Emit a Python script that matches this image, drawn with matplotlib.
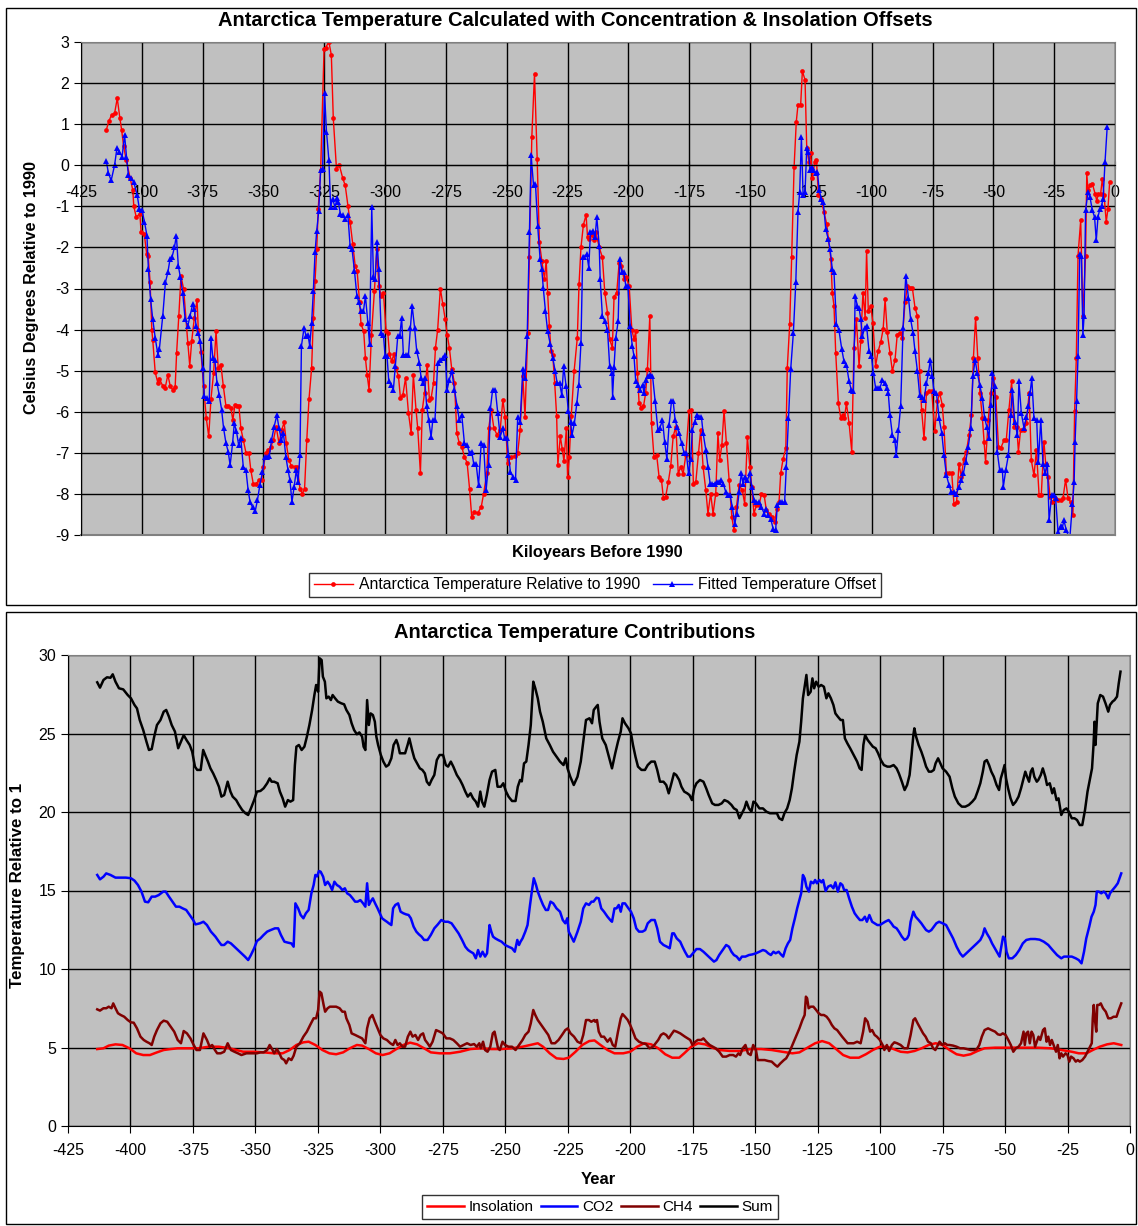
import matplotlib.pyplot as plt
from matplotlib.patches import Rectangle
from matplotlib.lines import Line2D

plt.rcParams['font.family'] = ['Liberation Sans', 'DejaVu Sans']
plt.rcParams['axes.unicode_minus'] = False

# ---------------- top chart: (kiloyears before 1990, deg C) ----------------
antarctica_pts = [
    (-414.6, 0.86), (-413.5, 1.08), (-412.4, 1.23), (-411.2, 1.26), (-410.1, 1.63), (-409.0, 1.14), (-408.3, 0.86),
    (-407.5, 0.47), (-406.4, 0.12), (-404.8, -0.31), (-403.7, -0.61), (-403.3, -1.0), (-402.3, -1.26), (-400.8, -1.18),
    (-400.3, -1.63), (-399.0, -1.67), (-398.0, -2.16), (-397.4, -2.2), (-396.6, -2.84), (-395.9, -4.0), (-395.5, -4.26),
    (-394.5, -5.04), (-393.4, -5.3), (-392.8, -5.2), (-391.4, -5.37), (-390.4, -5.42), (-389.3, -5.1), (-388.3, -5.38),
    (-387.3, -5.46), (-386.3, -5.4), (-385.7, -4.57), (-384.8, -3.67), (-383.9, -2.7), (-382.8, -3.02), (-381.1, -4.32),
    (-380.3, -4.88), (-379.5, -4.28), (-378.4, -3.71), (-377.3, -3.28), (-376.8, -4.0), (-375.7, -4.55), (-374.6, -5.38),
    (-373.5, -6.16), (-372.5, -6.6), (-371.6, -5.7), (-370.5, -5.06), (-369.5, -4.04), (-368.6, -4.93), (-367.5, -4.85),
    (-366.5, -5.38), (-365.4, -5.87), (-364.5, -5.87), (-363.4, -5.91), (-362.6, -6.2), (-361.7, -5.83), (-360.9, -5.87),
    (-360.1, -5.85), (-359.3, -6.4), (-358.3, -6.69), (-357.2, -7.0), (-356.0, -7.0), (-355.2, -7.42), (-354.2, -7.75),
    (-353.1, -7.75), (-351.8, -7.67), (-350.8, -7.67), (-350.0, -7.34), (-349.0, -7.0), (-348.0, -6.93), (-347.0, -6.85),
    (-345.9, -6.69), (-344.8, -6.36), (-343.6, -6.77), (-342.5, -6.44), (-341.5, -6.26), (-340.6, -6.77), (-339.6, -7.18),
    (-338.5, -7.32), (-337.2, -7.34), (-336.1, -7.34), (-335.0, -7.87), (-334.0, -7.99), (-333.1, -7.87), (-332.2, -6.69),
    (-331.3, -5.7), (-330.2, -4.93), (-329.5, -3.71), (-328.8, -2.81), (-328.1, -2.04), (-327.5, -1.06), (-326.5, -0.12),
    (-325.1, 2.82), (-324.5, 2.86), (-323.1, 3.0), (-322.1, 2.68), (-321.3, 1.14), (-320.0, -0.08), (-318.8, 0.0),
    (-317.4, -0.32), (-316.4, -0.49), (-315.3, -0.98), (-314.4, -1.38), (-313.3, -1.92), (-312.3, -2.45), (-311.5, -2.57),
    (-310.5, -3.34), (-309.9, -3.87), (-308.8, -4.04), (-308.1, -4.69), (-307.4, -5.1), (-306.6, -5.46), (-305.6, -4.12),
    (-304.4, -3.06), (-303.4, -2.04), (-302.6, -2.94), (-301.6, -3.18), (-300.7, -3.1), (-299.6, -4.04), (-298.9, -4.08),
    (-298.2, -4.6), (-297.3, -4.77), (-296.4, -4.6), (-295.6, -4.93), (-294.5, -5.14), (-293.7, -5.67), (-292.7, -5.59),
    (-291.6, -5.18), (-290.4, -6.03), (-289.3, -6.52), (-288.4, -5.1), (-287.3, -5.95), (-286.6, -6.4), (-285.5, -7.49),
    (-284.7, -5.95), (-283.8, -5.54), (-282.7, -4.85), (-281.8, -5.71), (-281.1, -5.67), (-280.1, -5.3), (-279.3, -4.44),
    (-278.4, -4.0), (-277.3, -3.0), (-276.3, -3.38), (-275.3, -3.75), (-274.5, -4.12), (-273.6, -4.44), (-272.6, -4.97),
    (-271.5, -5.3), (-270.5, -6.52), (-269.5, -6.77), (-268.5, -6.85), (-267.4, -7.1), (-266.3, -7.24), (-265.3, -7.87),
    (-264.4, -8.56), (-263.3, -8.44), (-261.9, -8.46), (-260.5, -8.32), (-259.5, -7.99), (-258.2, -7.5), (-257.4, -6.4),
    (-256.4, -5.95), (-255.3, -6.4), (-254.0, -6.56), (-252.7, -6.44), (-251.6, -5.71), (-250.7, -6.12), (-249.6, -7.24),
    (-248.2, -7.1), (-246.8, -7.08), (-245.5, -7.01), (-244.5, -6.44), (-243.4, -5.14), (-242.5, -6.12), (-241.4, -4.08),
    (-240.7, -2.24), (-239.7, 0.69), (-238.6, 2.22), (-237.5, 0.16), (-236.6, -1.87), (-235.6, -2.32), (-234.5, -2.77),
    (-233.8, -2.32), (-233.2, -3.1), (-232.5, -3.91), (-231.8, -4.53), (-231.1, -4.61), (-230.3, -5.3), (-229.5, -6.1),
    (-229.0, -7.3), (-228.0, -6.6), (-227.2, -6.9), (-226.5, -7.2), (-225.5, -6.4), (-225.0, -7.6), (-224.3, -7.1),
    (-223.5, -6.1), (-222.3, -5.0), (-221.0, -4.2), (-220.3, -2.9), (-219.5, -2.0), (-218.5, -1.45), (-217.4, -1.21),
    (-216.8, -1.75), (-216.0, -1.79), (-215.0, -1.7), (-214.0, -1.83), (-213.4, -1.63), (-212.0, -2.0), (-210.7, -2.24),
    (-209.7, -3.1), (-208.6, -3.59), (-207.7, -4.24), (-206.6, -4.44), (-205.9, -3.2), (-204.8, -3.1), (-203.8, -2.37),
    (-202.9, -2.45), (-201.8, -2.77), (-201.0, -2.73), (-199.7, -2.93), (-198.6, -4.0), (-197.7, -4.24), (-197.0, -4.04),
    (-196.3, -5.06), (-195.6, -5.79), (-194.7, -5.91), (-193.8, -5.87), (-192.9, -5.54), (-192.2, -4.97), (-191.2, -3.67),
    (-190.5, -6.28), (-189.5, -7.1), (-188.4, -7.05), (-187.4, -7.58), (-186.4, -7.67), (-185.6, -8.11), (-184.7, -8.07),
    (-183.6, -7.71), (-182.6, -7.32), (-181.6, -6.6), (-180.5, -6.36), (-179.5, -7.51), (-178.5, -7.34), (-177.5, -7.51),
    (-176.4, -7.05), (-175.1, -5.99), (-174.1, -5.95), (-173.3, -7.75), (-172.3, -7.71), (-171.2, -7.01), (-170.3, -6.44),
    (-169.3, -7.34), (-168.2, -7.91), (-167.3, -8.48), (-166.2, -7.99), (-165.2, -8.48), (-164.1, -7.99), (-163.2, -6.52),
    (-162.5, -7.18), (-161.6, -6.81), (-160.7, -5.97), (-159.7, -6.77), (-158.6, -7.67), (-157.5, -8.56), (-156.6, -8.89),
    (-155.6, -8.32), (-154.5, -7.79), (-153.2, -7.91), (-152.2, -8.24), (-151.1, -6.61), (-150.1, -7.34), (-149.3, -7.83),
    (-148.4, -8.48), (-147.4, -8.28), (-146.3, -8.28), (-145.3, -7.99), (-144.2, -8.03), (-143.3, -8.4), (-142.2, -8.48),
    (-140.8, -8.56), (-139.9, -8.69), (-139.0, -8.36), (-138.1, -8.2), (-137.4, -7.5), (-136.4, -7.14), (-135.3, -6.89),
    (-134.7, -4.93), (-133.7, -3.87), (-132.9, -2.24), (-131.9, -0.04), (-131.0, 1.06), (-130.3, 1.47), (-129.2, 1.47),
    (-128.5, 2.29), (-127.4, 2.08), (-126.7, 0.41), (-125.8, 0.08), (-125.1, 0.29), (-124.4, -0.32), (-123.4, 0.08),
    (-122.7, 0.12), (-121.9, -0.73), (-120.9, -0.81), (-119.6, -1.14), (-118.5, -1.43), (-117.8, -1.79), (-116.8, -2.28),
    (-116.2, -3.1), (-115.5, -3.42), (-114.8, -4.56), (-113.7, -5.79), (-112.7, -6.16), (-112.0, -6.08), (-111.2, -6.16),
    (-110.4, -5.79), (-109.3, -6.28), (-108.2, -6.97), (-107.3, -4.44), (-106.3, -3.75), (-105.2, -4.89), (-104.5, -4.28),
    (-103.6, -3.1), (-102.7, -3.71), (-102.1, -2.08), (-101.4, -3.55), (-100.4, -3.42), (-99.5, -3.83), (-98.4, -4.89),
    (-97.4, -4.53), (-96.3, -4.31), (-95.3, -3.99), (-94.5, -3.26), (-93.6, -4.07), (-92.5, -4.56), (-91.5, -5.01),
    (-90.4, -4.73), (-89.5, -4.12), (-88.5, -4.08), (-87.4, -4.2), (-86.3, -3.34), (-85.3, -2.93), (-84.2, -2.98),
    (-83.3, -2.98), (-82.2, -3.47), (-81.2, -3.67), (-80.3, -5.01), (-79.5, -5.95), (-78.5, -6.65), (-77.5, -5.55),
    (-76.4, -5.5), (-75.3, -5.5), (-74.1, -6.48), (-73.0, -5.75), (-72.1, -5.54), (-71.0, -5.83), (-70.3, -6.36),
    (-69.3, -7.5), (-68.2, -7.5), (-67.1, -7.5), (-66.2, -8.24), (-65.1, -8.2), (-64.1, -7.26), (-63.2, -7.58),
    (-62.1, -7.14), (-61.1, -6.97), (-60.0, -6.57), (-59.0, -6.08), (-58.2, -4.69), (-57.3, -3.71), (-56.4, -4.69),
    (-55.5, -5.54), (-54.5, -6.16), (-53.8, -6.73), (-53.2, -7.22), (-52.1, -6.2), (-51.1, -5.54), (-50.1, -5.18),
    (-49.0, -5.63), (-47.9, -6.85), (-47.0, -6.89), (-45.6, -6.69), (-44.7, -6.69), (-43.6, -5.95), (-42.5, -5.26),
    (-41.5, -6.36), (-40.4, -6.36), (-39.7, -6.97), (-38.8, -6.44), (-37.4, -6.44), (-36.4, -6.28), (-35.3, -5.54),
    (-34.4, -7.18), (-33.3, -7.55), (-32.3, -6.93), (-31.2, -8.03), (-30.3, -8.03), (-29.2, -6.73), (-28.5, -7.26),
    (-27.5, -7.58), (-26.7, -8.07), (-25.8, -8.2), (-24.7, -8.11), (-23.4, -8.15), (-22.3, -8.15), (-21.4, -8.11),
    (-20.3, -7.65), (-19.3, -8.11), (-18.2, -8.2), (-17.3, -8.52), (-16.6, -5.99), (-15.9, -4.69), (-15.2, -2.2),
    (-14.1, -1.34), (-13.2, -3.67), (-12.1, -2.2), (-11.6, -0.2), (-11.1, -0.61), (-10.3, -0.49), (-9.3, -0.45),
    (-8.2, -0.69), (-7.5, -0.86), (-6.8, -0.69), (-5.9, -0.69), (-5.2, -0.33), (-4.5, -0.73), (-3.6, -1.38),
    (-2.9, -1.06), (-2.2, -0.41),
]

fitted_pts = [
    (-414.6, 0.1), (-413.7, -0.2), (-412.6, -0.37), (-411.2, 0.0), (-410.2, 0.43), (-409.2, 0.33), (-408.1, 0.21),
    (-407.1, 0.74), (-406.3, 0.21), (-405.5, -0.24), (-404.4, -0.32), (-403.3, -0.41), (-401.9, -0.73), (-401.0, -1.06),
    (-399.9, -1.1), (-398.9, -1.38), (-397.9, -1.71), (-397.3, -2.53), (-396.4, -3.26), (-395.5, -3.75), (-394.5, -4.2),
    (-393.4, -4.61), (-392.8, -4.48), (-391.4, -3.67), (-390.3, -2.85), (-389.3, -2.61), (-388.4, -2.28), (-387.6, -2.24),
    (-386.6, -2.0), (-385.8, -1.71), (-385.0, -2.45), (-384.2, -2.71), (-383.2, -3.1), (-382.2, -3.75), (-381.1, -3.91),
    (-380.2, -3.67), (-379.1, -3.38), (-378.4, -3.51), (-377.7, -3.91), (-376.8, -4.08), (-376.0, -4.28), (-375.0, -4.93),
    (-374.3, -5.62), (-373.4, -5.67), (-372.3, -5.75), (-371.6, -4.2), (-370.8, -4.69), (-370.0, -4.73), (-369.1, -5.3),
    (-368.2, -5.59), (-367.2, -5.95), (-366.4, -6.4), (-365.4, -6.77), (-364.5, -6.97), (-363.7, -7.3), (-362.7, -6.77),
    (-362.0, -6.28), (-361.1, -6.48), (-360.2, -6.81), (-359.3, -6.65), (-358.3, -7.34), (-357.2, -7.42), (-356.3, -7.91),
    (-355.5, -8.2), (-354.5, -8.32), (-353.4, -8.42), (-352.5, -8.16), (-351.5, -7.79), (-350.4, -7.47), (-349.5, -7.1),
    (-348.6, -7.1), (-347.6, -7.08), (-346.7, -6.69), (-345.6, -6.36), (-344.5, -6.08), (-343.6, -6.4), (-342.6, -6.69),
    (-341.8, -6.52), (-340.8, -7.1), (-339.9, -7.42), (-339.1, -7.67), (-338.3, -8.2), (-337.4, -7.83), (-336.5, -7.42),
    (-335.8, -7.71), (-335.0, -7.05), (-334.4, -4.4), (-333.3, -3.95), (-332.5, -4.16), (-331.7, -4.12), (-331.0, -4.4),
    (-330.2, -3.83), (-329.5, -3.06), (-328.8, -2.12), (-328.1, -1.59), (-327.3, -1.12), (-326.5, -0.12), (-325.7, -0.1),
    (-324.9, 1.76), (-324.1, 0.82), (-323.1, 0.12), (-322.4, -1.02), (-321.6, -0.81), (-320.6, -1.02), (-319.7, -0.8),
    (-319.2, -0.9), (-318.4, -1.18), (-317.4, -1.22), (-316.4, -1.3), (-315.3, -1.22), (-314.4, -1.96), (-313.6, -2.04),
    (-312.6, -2.57), (-311.6, -3.18), (-310.8, -3.34), (-309.9, -3.55), (-308.9, -3.55), (-308.1, -3.18), (-307.1, -3.83),
    (-306.4, -4.36), (-305.5, -1.02), (-304.8, -2.73), (-304.1, -2.77), (-303.3, -1.87), (-302.6, -2.53), (-301.6, -4.08),
    (-300.7, -4.12), (-300.0, -4.65), (-299.2, -4.65), (-298.5, -5.26), (-297.5, -5.34), (-296.6, -5.46), (-295.8, -4.89),
    (-294.8, -4.16), (-294.0, -4.16), (-293.2, -3.71), (-292.5, -4.61), (-291.5, -4.61), (-290.4, -4.61), (-289.6, -3.95),
    (-288.9, -3.42), (-287.9, -3.95), (-287.0, -4.53), (-285.9, -4.81), (-285.2, -5.18), (-284.5, -5.3), (-283.8, -5.18),
    (-282.9, -5.87), (-282.1, -6.2), (-281.1, -6.61), (-280.4, -6.2), (-279.5, -6.2), (-278.4, -4.81), (-277.3, -4.73),
    (-276.3, -4.69), (-275.3, -4.61), (-274.5, -5.46), (-273.6, -5.22), (-272.6, -5.01), (-271.5, -5.46), (-270.4, -5.87),
    (-269.5, -6.2), (-268.5, -6.08), (-267.4, -6.77), (-266.3, -6.81), (-265.3, -7.01), (-264.4, -6.97), (-263.6, -7.26),
    (-262.6, -7.26), (-261.6, -7.79), (-260.5, -6.77), (-259.5, -6.81), (-258.5, -7.91), (-257.5, -7.3), (-256.7, -5.91),
    (-255.8, -5.46), (-254.7, -5.46), (-253.7, -6.03), (-252.7, -6.61), (-251.6, -6.4), (-250.9, -6.65), (-250.0, -6.65),
    (-249.3, -7.05), (-248.5, -7.46), (-247.5, -7.58), (-246.4, -7.65), (-245.5, -6.12), (-244.5, -6.24), (-243.4, -4.97),
    (-242.5, -5.18), (-241.6, -4.16), (-240.7, -1.63), (-240.0, 0.25), (-239.0, -0.49), (-238.2, -0.45), (-237.3, -1.47),
    (-236.3, -2.28), (-235.6, -2.53), (-235.0, -2.98), (-234.1, -3.55), (-233.2, -4.04), (-232.1, -4.36), (-231.1, -4.69),
    (-230.1, -5.01), (-229.3, -5.3), (-228.3, -5.3), (-227.4, -5.59), (-226.6, -4.89), (-225.6, -5.38), (-224.7, -5.99),
    (-223.8, -6.24), (-223.2, -6.57), (-222.2, -6.28), (-221.2, -5.79), (-220.4, -5.34), (-219.5, -4.32), (-218.8, -2.24),
    (-218.1, -2.24), (-217.1, -2.16), (-216.3, -2.49), (-215.6, -1.63), (-214.7, -1.59), (-213.7, -1.75), (-213.0, -1.26),
    (-212.0, -1.96), (-211.6, -2.77), (-210.7, -3.67), (-209.7, -3.79), (-208.6, -4.0), (-207.7, -4.89), (-206.8, -5.06),
    (-206.5, -5.63), (-205.9, -4.9), (-205.2, -4.2), (-204.2, -3.79), (-203.6, -2.28), (-202.7, -2.61), (-201.8, -2.61),
    (-201.1, -2.93), (-200.2, -2.93), (-199.3, -3.91), (-198.4, -4.4), (-197.7, -4.65), (-197.0, -5.26), (-196.0, -5.34),
    (-195.2, -5.46), (-194.2, -5.34), (-193.6, -5.54), (-192.9, -5.22), (-191.9, -5.14), (-191.1, -5.1), (-190.1, -5.12),
    (-189.0, -5.75), (-187.9, -6.44), (-187.1, -6.4), (-186.0, -6.2), (-185.1, -6.73), (-184.2, -7.14), (-183.3, -6.32),
    (-182.3, -5.75), (-181.6, -5.75), (-180.8, -6.2), (-180.1, -6.36), (-179.2, -6.52), (-178.1, -6.77), (-177.1, -7.01),
    (-176.2, -7.01), (-175.3, -7.5), (-174.4, -7.14), (-173.7, -6.44), (-172.7, -6.24), (-171.9, -6.08), (-170.9, -6.12),
    (-170.0, -6.12), (-169.3, -6.52), (-168.2, -6.93), (-167.3, -7.34), (-166.4, -7.75), (-165.5, -7.75), (-164.6, -7.75),
    (-163.7, -7.71), (-162.8, -7.71), (-161.8, -7.67), (-161.0, -7.75), (-160.0, -7.95), (-159.0, -8.03), (-158.2, -8.03),
    (-157.3, -8.32), (-156.3, -8.73), (-155.5, -8.48), (-154.5, -7.95), (-153.6, -7.5), (-152.9, -7.75), (-152.1, -7.58),
    (-151.1, -7.67), (-150.1, -7.5), (-149.3, -7.83), (-148.4, -8.16), (-147.4, -8.2), (-146.3, -8.2), (-145.3, -8.32),
    (-144.2, -8.48), (-143.3, -8.36), (-142.5, -8.52), (-141.5, -8.61), (-140.5, -8.85), (-139.5, -8.89), (-138.8, -8.28),
    (-137.8, -8.2), (-136.7, -8.2), (-135.8, -8.2), (-135.1, -7.34), (-134.2, -6.16), (-133.3, -4.97), (-132.2, -4.08),
    (-131.2, -2.85), (-130.3, -1.14), (-129.6, -0.65), (-128.9, 0.69), (-128.2, -0.73), (-127.4, -0.65), (-126.7, 0.41),
    (-126.0, 0.33), (-125.3, -0.12), (-124.7, -0.04), (-124.0, -0.12), (-123.0, -0.2), (-122.3, -0.16), (-121.6, -0.61),
    (-120.7, -0.81), (-119.9, -0.9), (-118.9, -1.55), (-117.9, -1.79), (-117.1, -2.04), (-116.2, -2.53), (-115.5, -2.61),
    (-114.5, -3.87), (-113.5, -4.0), (-112.3, -4.48), (-111.4, -4.77), (-110.4, -4.85), (-109.3, -5.26), (-108.4, -5.46),
    (-107.5, -5.5), (-106.8, -3.18), (-105.9, -3.42), (-105.2, -3.47), (-104.5, -3.75), (-103.8, -4.16), (-102.9, -3.95),
    (-102.1, -3.91), (-101.1, -4.53), (-100.1, -4.65), (-99.3, -5.06), (-98.4, -5.42), (-97.5, -5.42), (-96.6, -5.42),
    (-95.6, -5.22), (-94.7, -5.3), (-93.8, -5.42), (-93.2, -5.54), (-92.5, -6.08), (-91.5, -6.57), (-90.5, -6.69),
    (-89.9, -7.05), (-89.0, -6.44), (-88.1, -5.87), (-87.1, -3.95), (-86.0, -2.69), (-84.9, -3.22), (-84.0, -3.75),
    (-83.0, -4.08), (-82.2, -4.53), (-81.2, -5.01), (-80.3, -5.59), (-79.5, -5.63), (-78.5, -5.71), (-77.5, -5.3),
    (-76.7, -5.06), (-75.9, -4.73), (-75.1, -5.14), (-74.4, -5.5), (-73.4, -5.54), (-72.3, -6.16), (-71.2, -6.52),
    (-70.3, -7.05), (-69.3, -7.54), (-68.2, -7.79), (-67.3, -7.95), (-66.2, -7.95), (-65.2, -7.99), (-64.1, -7.83),
    (-63.2, -7.67), (-62.3, -7.5), (-61.4, -7.22), (-60.3, -6.85), (-59.3, -6.4), (-58.4, -5.14), (-57.5, -4.73),
    (-56.6, -5.06), (-55.6, -5.34), (-54.5, -5.67), (-53.6, -6.16), (-52.7, -6.36), (-51.8, -6.65), (-51.1, -5.83),
    (-50.4, -5.06), (-49.5, -5.38), (-48.4, -6.97), (-47.4, -7.42), (-46.3, -7.42), (-45.9, -7.83), (-44.9, -7.42),
    (-43.8, -7.05), (-42.9, -6.08), (-42.2, -5.46), (-41.2, -6.24), (-40.1, -6.57), (-39.5, -5.26), (-38.5, -6.03),
    (-37.4, -6.4), (-36.4, -6.12), (-35.6, -5.87), (-34.9, -5.54), (-34.2, -5.18), (-33.3, -6.16), (-32.2, -6.2),
    (-31.5, -7.22), (-30.5, -6.2), (-29.6, -7.26), (-28.8, -7.5), (-27.8, -7.26), (-27.1, -8.64), (-26.0, -8.03),
    (-25.0, -8.03), (-24.4, -8.11), (-23.4, -8.93), (-22.3, -8.77), (-21.6, -8.81), (-21.0, -8.64), (-20.0, -8.89),
    (-18.6, -9.1), (-17.5, -8.24), (-16.8, -7.71), (-16.4, -6.73), (-15.8, -5.75), (-15.2, -4.65), (-14.5, -2.16),
    (-13.8, -2.2), (-13.2, -4.12), (-12.7, -3.67), (-12.1, -1.1), (-11.1, -0.65), (-10.3, -0.77), (-9.3, -1.1),
    (-8.4, -1.26), (-7.7, -1.83), (-7.0, -1.26), (-6.2, -1.06), (-5.5, -0.98), (-4.9, -0.81), (-4.1, 0.08), (-3.2, 0.94),
]

# ---------------- bottom chart: contributions (kyr, value) ----------------
insolation_pts = [
    (-413.3, 4.9), (-410.8, 4.95), (-408.7, 5.12), (-406.0, 5.2), (-403.2, 5.16), (-400.4, 4.95), (-397.7, 4.63),
    (-394.9, 4.52), (-392.2, 4.52), (-389.4, 4.69), (-386.7, 4.84), (-383.9, 4.9), (-381.1, 4.95), (-377.0, 4.95),
    (-372.9, 4.95), (-368.7, 5.05), (-364.6, 5.05), (-360.4, 4.95), (-357.7, 4.84), (-354.9, 4.73), (-350.8, 4.73),
    (-346.7, 4.69), (-342.5, 4.63), (-339.1, 4.63), (-336.3, 4.84), (-333.6, 5.16), (-330.8, 5.33), (-328.7, 5.37),
    (-326.0, 5.16), (-323.2, 4.84), (-320.4, 4.63), (-317.7, 4.57), (-314.9, 4.69), (-312.2, 4.95), (-309.4, 5.16),
    (-307.3, 5.12), (-304.6, 4.9), (-301.8, 4.63), (-299.1, 4.52), (-296.3, 4.63), (-293.6, 4.9), (-290.8, 5.16),
    (-288.1, 5.31), (-285.3, 5.2), (-282.5, 4.95), (-279.8, 4.69), (-276.3, 4.63), (-272.2, 4.63), (-268.1, 4.73),
    (-263.9, 4.9), (-259.8, 4.95), (-255.6, 4.9), (-251.5, 4.9), (-247.3, 4.95), (-243.1, 5.05), (-239.0, 5.2),
    (-237.0, 5.27), (-234.9, 5.05), (-232.2, 4.63), (-229.5, 4.31), (-226.7, 4.27), (-224.6, 4.35), (-221.9, 4.73),
    (-219.2, 5.16), (-216.4, 5.41), (-214.3, 5.45), (-211.9, 5.16), (-209.1, 4.84), (-206.3, 4.63), (-202.8, 4.63),
    (-200.0, 4.73), (-197.2, 5.05), (-194.4, 5.27), (-191.6, 5.2), (-188.8, 4.95), (-186.0, 4.57), (-183.2, 4.35),
    (-180.4, 4.35), (-178.4, 4.63), (-175.6, 5.05), (-172.8, 5.27), (-170.0, 5.2), (-167.2, 4.99), (-164.4, 4.84),
    (-160.2, 4.78), (-156.0, 4.78), (-151.8, 4.9), (-147.6, 4.9), (-143.4, 4.84), (-139.2, 4.73), (-135.1, 4.63),
    (-132.3, 4.69), (-129.5, 4.95), (-126.0, 5.27), (-123.2, 5.41), (-120.4, 5.27), (-117.6, 4.9), (-114.8, 4.52),
    (-112.0, 4.35), (-108.5, 4.35), (-105.7, 4.57), (-102.9, 4.84), (-100.1, 5.05), (-97.3, 5.05), (-94.6, 4.9),
    (-91.8, 4.73), (-89.0, 4.69), (-86.2, 4.78), (-83.4, 4.95), (-80.6, 5.16), (-77.8, 5.27), (-75.0, 5.16),
    (-72.2, 4.84), (-69.4, 4.57), (-66.6, 4.48), (-63.8, 4.57), (-61.0, 4.78), (-58.2, 4.95), (-54.0, 4.99),
    (-48.5, 4.99), (-42.9, 4.99), (-37.3, 4.99), (-31.6, 4.95), (-27.5, 4.84), (-23.3, 4.73), (-20.5, 4.63),
    (-17.4, 4.63), (-14.9, 4.84), (-12.1, 5.05), (-9.2, 5.2), (-6.5, 5.27), (-3.5, 5.16),
]

co2_pts = [
    (-413.3, 15.99), (-412.2, 15.71), (-410.8, 15.88), (-409.7, 16.09), (-408.0, 15.99), (-406.0, 15.82), (-403.9, 15.82),
    (-401.8, 15.82), (-399.8, 15.78), (-398.4, 15.63), (-397.0, 15.35), (-395.6, 14.93), (-394.2, 14.29), (-392.9, 14.25),
    (-391.5, 14.61), (-390.1, 14.61), (-388.7, 14.71), (-386.9, 14.93), (-385.9, 14.93), (-384.6, 14.61), (-383.2, 14.29),
    (-381.8, 13.97), (-380.4, 13.97), (-379.1, 13.86), (-377.7, 13.76), (-376.3, 13.44), (-374.9, 13.12), (-374.0, 12.84),
    (-372.2, 12.91), (-370.8, 13.01), (-369.4, 12.8), (-367.8, 12.38), (-366.0, 12.06), (-364.6, 11.74), (-363.6, 11.53),
    (-362.5, 11.53), (-361.1, 11.74), (-359.8, 11.63), (-358.4, 11.42), (-357.0, 11.21), (-355.6, 11.0), (-354.2, 10.79),
    (-352.9, 10.57), (-351.8, 10.89), (-350.5, 11.32), (-349.4, 11.78), (-348.0, 11.95), (-346.7, 12.17), (-345.3, 12.38),
    (-343.9, 12.48), (-342.2, 12.59), (-340.9, 12.59), (-339.8, 12.17), (-338.4, 11.74), (-337.0, 11.68), (-335.6, 11.63),
    (-334.7, 11.42), (-334.0, 14.18), (-332.9, 13.86), (-331.9, 13.44), (-330.8, 13.23), (-329.8, 13.55), (-328.7, 13.76),
    (-327.6, 14.82), (-326.7, 15.35), (-326.0, 15.99), (-325.3, 15.9), (-324.6, 16.24), (-323.9, 16.2), (-322.9, 15.88),
    (-322.1, 15.35), (-321.1, 15.56), (-320.2, 15.35), (-319.3, 15.03), (-318.4, 15.56), (-317.4, 15.35), (-316.3, 15.24),
    (-315.2, 15.03), (-314.2, 15.14), (-313.3, 14.82), (-312.2, 14.71), (-311.1, 14.5), (-310.1, 14.29), (-309.1, 14.29),
    (-308.0, 14.39), (-306.9, 14.18), (-306.0, 13.97), (-305.3, 15.46), (-304.6, 14.08), (-303.9, 14.29), (-303.0, 14.5),
    (-302.1, 14.18), (-301.1, 13.86), (-300.2, 13.55), (-299.3, 13.23), (-298.4, 13.12), (-297.4, 13.01), (-296.6, 12.91),
    (-295.6, 12.8), (-294.9, 13.86), (-294.0, 14.08), (-292.9, 14.18), (-291.9, 13.65), (-290.8, 13.55), (-289.7, 13.48),
    (-288.7, 13.44), (-287.8, 13.23), (-286.7, 12.7), (-285.6, 12.38), (-284.6, 12.21), (-283.5, 12.06), (-282.5, 11.85),
    (-281.1, 11.85), (-279.8, 12.17), (-278.4, 12.59), (-277.0, 12.84), (-275.6, 13.12), (-274.2, 13.01), (-272.9, 13.01),
    (-271.5, 12.91), (-270.1, 12.59), (-268.7, 12.27), (-267.3, 11.85), (-266.0, 11.42), (-264.9, 11.21), (-263.9, 11.1),
    (-262.8, 11.0), (-261.8, 10.68), (-260.9, 11.21), (-260.0, 10.79), (-259.1, 11.1), (-258.1, 10.79), (-257.3, 11.0),
    (-256.3, 12.8), (-255.6, 12.38), (-254.9, 12.06), (-254.0, 11.95), (-252.9, 11.85), (-251.5, 11.74), (-250.1, 11.53),
    (-248.7, 11.42), (-247.3, 11.32), (-246.2, 11.1), (-245.2, 11.85), (-244.5, 11.53), (-243.9, 11.74), (-243.1, 11.95),
    (-242.0, 12.38), (-241.1, 12.8), (-240.1, 14.08), (-239.3, 15.03), (-238.6, 15.78), (-237.7, 15.35), (-237.0, 14.93),
    (-236.0, 14.5), (-234.9, 14.08), (-233.8, 13.76), (-232.9, 13.76), (-231.9, 14.29), (-230.8, 14.18), (-229.5, 13.86),
    (-228.1, 13.65), (-227.0, 13.12), (-226.0, 12.91), (-225.2, 13.23), (-224.6, 12.38), (-223.6, 12.06), (-222.6, 11.74),
    (-221.1, 12.38), (-219.8, 13.01), (-218.8, 13.86), (-217.7, 14.18), (-216.5, 14.08), (-215.5, 14.29), (-214.7, 14.29),
    (-213.5, 14.54), (-212.6, 14.5), (-211.6, 13.86), (-210.5, 13.65), (-209.1, 13.33), (-208.0, 13.12), (-207.3, 13.01),
    (-206.3, 13.86), (-205.5, 13.86), (-204.6, 14.08), (-203.8, 13.65), (-203.1, 14.18), (-202.1, 14.18), (-200.7, 13.86),
    (-199.7, 13.65), (-198.6, 13.23), (-197.6, 12.59), (-196.5, 12.38), (-195.1, 12.38), (-194.0, 12.48), (-193.0, 12.91),
    (-191.6, 13.12), (-190.2, 13.12), (-189.2, 12.59), (-188.1, 11.74), (-186.7, 11.53), (-185.3, 11.42), (-184.2, 11.32),
    (-183.2, 12.27), (-182.5, 12.27), (-181.4, 11.95), (-180.0, 11.74), (-179.1, 11.42), (-178.1, 11.1), (-177.0, 10.79),
    (-176.0, 10.79), (-174.9, 11.0), (-173.5, 11.27), (-172.1, 11.27), (-170.7, 11.1), (-169.3, 10.89), (-167.9, 10.68),
    (-166.5, 10.47), (-165.5, 10.57), (-164.4, 10.89), (-163.0, 11.21), (-161.6, 11.53), (-160.5, 11.42), (-159.5, 11.1),
    (-158.5, 10.89), (-157.4, 10.79), (-156.3, 10.57), (-155.3, 10.79), (-153.9, 10.79), (-152.5, 10.89), (-151.1, 10.93),
    (-149.7, 11.0), (-148.3, 11.1), (-146.9, 11.21), (-145.8, 11.15), (-144.8, 11.0), (-143.7, 10.89), (-142.7, 11.1),
    (-141.8, 11.0), (-140.6, 11.1), (-139.7, 10.93), (-138.8, 10.79), (-137.8, 11.32), (-136.9, 11.63), (-136.0, 11.85),
    (-135.1, 12.59), (-134.1, 13.23), (-133.2, 13.86), (-132.3, 14.39), (-131.6, 14.82), (-130.9, 15.99), (-130.2, 15.78),
    (-129.5, 15.24), (-128.5, 14.93), (-127.7, 15.56), (-126.7, 15.46), (-126.0, 15.67), (-125.3, 15.46), (-124.3, 15.67),
    (-123.5, 15.52), (-122.8, 15.67), (-121.8, 14.97), (-120.8, 15.25), (-119.7, 15.33), (-118.7, 15.14), (-117.9, 15.52),
    (-116.9, 14.93), (-115.9, 15.46), (-115.1, 15.35), (-114.4, 15.03), (-113.4, 15.03), (-112.4, 14.5), (-111.3, 13.97),
    (-110.2, 13.55), (-109.2, 13.33), (-108.1, 13.12), (-107.1, 13.12), (-106.1, 13.33), (-105.3, 13.01), (-104.3, 13.44),
    (-103.2, 13.01), (-102.2, 12.91), (-101.1, 12.8), (-100.1, 12.8), (-99.0, 12.91), (-98.0, 13.01), (-96.6, 13.12),
    (-95.5, 12.91), (-94.6, 12.7), (-93.4, 12.59), (-92.5, 12.38), (-91.3, 12.06), (-90.2, 11.85), (-89.2, 11.95),
    (-88.5, 12.17), (-87.8, 13.01), (-86.7, 13.65), (-85.8, 13.33), (-84.6, 13.12), (-83.5, 12.91), (-82.6, 12.7),
    (-81.6, 12.48), (-80.5, 12.38), (-79.5, 12.48), (-78.5, 12.7), (-77.5, 12.91), (-76.4, 13.01), (-75.0, 12.91),
    (-73.6, 12.8), (-72.2, 12.38), (-70.8, 11.95), (-69.4, 11.42), (-68.0, 11.0), (-66.9, 10.79), (-65.5, 11.0),
    (-64.1, 11.21), (-62.7, 11.42), (-61.3, 11.63), (-59.9, 11.85), (-58.9, 12.17), (-58.2, 12.59), (-57.3, 12.27),
    (-56.1, 11.95), (-55.2, 11.63), (-54.1, 11.32), (-53.0, 11.0), (-52.2, 10.79), (-51.5, 11.42), (-50.8, 12.06),
    (-50.1, 11.95), (-49.4, 11.1), (-48.5, 10.68), (-47.1, 10.68), (-45.7, 10.89), (-44.3, 11.21), (-42.9, 11.63),
    (-41.5, 11.85), (-39.8, 11.91), (-38.0, 11.91), (-36.2, 11.87), (-34.5, 11.74), (-32.7, 11.53), (-31.0, 11.21),
    (-29.2, 10.89), (-27.5, 10.68), (-26.4, 10.79), (-25.0, 10.79), (-23.3, 10.79), (-21.7, 10.68), (-20.5, 10.57),
    (-19.4, 10.36), (-18.4, 11.1), (-17.5, 11.95), (-16.3, 12.7), (-15.4, 13.33), (-14.5, 13.65), (-13.8, 14.08),
    (-13.3, 14.93), (-12.5, 14.93), (-11.5, 14.82), (-10.5, 14.93), (-9.7, 14.82), (-8.7, 14.5), (-8.0, 14.82),
    (-7.0, 15.03), (-5.9, 15.24), (-4.9, 15.46), (-4.2, 15.78), (-3.5, 16.09),
]

ch4_pts = [
    (-413.3, 7.43), (-412.2, 7.35), (-410.8, 7.5), (-409.7, 7.5), (-408.7, 7.6), (-407.6, 7.5), (-406.9, 7.81),
    (-406.0, 7.5), (-405.0, 7.18), (-403.9, 7.07), (-402.5, 6.96), (-401.1, 6.75), (-399.8, 6.6), (-398.7, 6.58),
    (-397.4, 6.22), (-396.0, 5.69), (-394.7, 5.48), (-393.6, 5.37), (-392.4, 5.27), (-391.5, 5.16), (-390.5, 5.69),
    (-389.4, 6.11), (-388.0, 6.54), (-386.7, 6.71), (-385.3, 6.64), (-383.9, 6.33), (-382.5, 6.01), (-381.1, 5.48),
    (-379.8, 5.27), (-378.7, 6.05), (-377.4, 5.9), (-376.0, 5.58), (-374.7, 5.16), (-373.6, 4.84), (-372.2, 4.84),
    (-370.8, 5.9), (-369.4, 5.48), (-368.3, 5.05), (-367.3, 5.16), (-366.2, 4.84), (-365.3, 4.63), (-363.9, 4.63),
    (-362.5, 4.73), (-361.1, 5.27), (-359.8, 4.84), (-358.4, 4.73), (-357.0, 4.63), (-355.6, 4.52), (-353.6, 4.63),
    (-351.5, 4.63), (-349.4, 4.63), (-348.0, 4.69), (-346.7, 4.69), (-345.3, 4.84), (-344.3, 5.16), (-343.5, 4.95),
    (-342.5, 4.63), (-341.4, 4.9), (-340.4, 4.63), (-339.5, 4.31), (-338.4, 4.2), (-337.7, 3.99), (-336.7, 4.31),
    (-335.6, 4.2), (-334.7, 4.48), (-333.6, 5.05), (-332.2, 5.27), (-330.8, 5.69), (-329.4, 6.01), (-328.1, 6.43),
    (-326.7, 6.86), (-325.7, 6.86), (-324.9, 7.39), (-324.3, 8.56), (-323.6, 8.46), (-323.2, 8.13), (-322.7, 7.71),
    (-322.1, 7.28), (-321.1, 7.5), (-320.2, 7.6), (-319.1, 7.6), (-317.7, 7.6), (-316.3, 7.5), (-315.2, 7.28),
    (-314.2, 7.28), (-313.6, 6.86), (-312.4, 6.43), (-311.5, 5.9), (-310.1, 5.8), (-308.7, 5.69), (-307.3, 5.58),
    (-306.0, 5.27), (-305.3, 6.22), (-304.3, 6.86), (-303.2, 7.07), (-302.2, 6.64), (-301.1, 6.22), (-300.0, 5.8),
    (-298.8, 5.58), (-297.4, 5.48), (-296.0, 5.27), (-294.9, 5.16), (-294.0, 5.48), (-293.1, 5.16), (-292.2, 5.27),
    (-291.2, 5.05), (-290.1, 5.05), (-289.0, 5.69), (-288.0, 6.01), (-287.1, 5.69), (-286.0, 5.8), (-284.9, 5.48),
    (-283.9, 5.8), (-282.9, 5.9), (-282.1, 5.48), (-281.1, 5.27), (-280.2, 5.05), (-279.1, 5.37), (-277.7, 6.11),
    (-276.3, 6.01), (-275.0, 5.9), (-273.6, 5.58), (-272.2, 5.58), (-270.8, 5.48), (-269.4, 5.27), (-268.1, 5.05),
    (-266.7, 5.16), (-265.3, 5.27), (-263.9, 5.16), (-262.5, 5.22), (-261.4, 5.05), (-260.4, 5.27), (-259.8, 4.95),
    (-258.9, 5.37), (-258.1, 4.84), (-257.1, 4.73), (-256.0, 5.05), (-255.0, 5.9), (-254.3, 6.01), (-253.6, 5.48),
    (-252.9, 4.95), (-252.2, 4.84), (-251.1, 5.37), (-250.1, 5.16), (-248.7, 5.05), (-247.3, 5.05), (-245.9, 4.84),
    (-244.5, 5.16), (-243.1, 5.48), (-242.0, 5.8), (-240.7, 6.01), (-239.8, 6.54), (-238.8, 7.39), (-238.0, 7.07),
    (-237.0, 6.75), (-235.6, 6.43), (-234.2, 6.11), (-232.8, 5.8), (-231.5, 5.27), (-230.1, 5.27), (-228.7, 5.48),
    (-227.3, 5.8), (-226.0, 6.11), (-225.0, 6.22), (-223.9, 5.9), (-222.5, 5.69), (-221.1, 5.37), (-219.8, 5.27),
    (-218.8, 5.8), (-217.7, 6.75), (-216.5, 6.75), (-215.6, 6.64), (-214.4, 6.75), (-214.0, 6.64), (-213.3, 6.75),
    (-212.6, 6.01), (-211.6, 5.69), (-210.5, 5.69), (-209.1, 5.37), (-208.0, 5.58), (-207.0, 5.16), (-206.0, 5.05),
    (-204.9, 6.01), (-203.8, 6.86), (-203.1, 7.13), (-202.1, 6.96), (-201.0, 6.75), (-200.0, 6.43), (-198.9, 6.01),
    (-197.9, 5.58), (-196.5, 5.37), (-195.1, 5.27), (-193.7, 5.22), (-192.3, 4.95), (-190.9, 5.05), (-189.8, 5.27),
    (-188.8, 5.48), (-187.7, 5.8), (-186.7, 5.9), (-185.6, 5.8), (-184.6, 5.58), (-183.7, 5.8), (-182.5, 6.07),
    (-181.4, 6.01), (-180.0, 5.9), (-179.1, 5.8), (-178.1, 5.69), (-177.0, 5.58), (-176.0, 5.48), (-175.1, 5.16),
    (-174.2, 5.33), (-173.0, 5.48), (-171.6, 5.48), (-170.7, 5.58), (-169.6, 5.37), (-168.2, 5.16), (-166.9, 5.05),
    (-165.8, 4.95), (-164.4, 4.73), (-163.0, 4.42), (-161.6, 4.42), (-160.2, 4.52), (-158.8, 4.52), (-157.7, 4.42),
    (-156.7, 4.63), (-156.0, 4.52), (-155.0, 4.95), (-153.9, 5.16), (-152.9, 4.63), (-151.8, 4.52), (-150.8, 5.16),
    (-149.7, 4.84), (-149.0, 4.2), (-147.6, 4.2), (-146.2, 4.2), (-144.8, 4.14), (-143.4, 4.1), (-142.0, 3.89),
    (-141.1, 3.78), (-139.9, 3.99), (-138.5, 4.2), (-137.6, 4.31), (-136.5, 4.63), (-135.1, 5.16), (-133.7, 5.69),
    (-132.3, 6.22), (-131.1, 6.75), (-130.2, 7.07), (-129.7, 8.24), (-129.2, 8.13), (-128.6, 7.5), (-127.8, 7.6),
    (-126.7, 7.6), (-125.6, 7.39), (-124.6, 7.18), (-123.6, 7.07), (-122.5, 7.07), (-121.4, 6.96), (-120.4, 6.75),
    (-119.3, 6.43), (-118.3, 6.22), (-117.2, 6.11), (-116.2, 5.9), (-115.2, 5.69), (-114.1, 5.48), (-113.0, 5.27),
    (-112.0, 5.27), (-110.6, 5.27), (-109.2, 5.37), (-107.8, 5.27), (-106.8, 6.01), (-106.0, 6.86), (-105.0, 6.64),
    (-104.0, 6.01), (-103.2, 6.11), (-102.2, 5.8), (-101.3, 5.69), (-100.1, 5.48), (-99.0, 5.16), (-98.3, 4.84),
    (-97.3, 5.16), (-96.4, 4.78), (-95.3, 5.16), (-94.3, 5.33), (-93.2, 5.27), (-91.8, 5.16), (-90.4, 4.95),
    (-89.0, 4.95), (-87.8, 5.8), (-86.7, 6.75), (-86.0, 6.86), (-85.0, 6.54), (-83.9, 6.22), (-82.8, 5.9),
    (-81.8, 5.69), (-80.8, 5.37), (-79.7, 5.27), (-78.8, 4.95), (-77.9, 4.84), (-76.9, 5.16), (-76.2, 5.37),
    (-75.1, 5.16), (-74.1, 5.27), (-73.1, 5.16), (-72.2, 5.16), (-70.8, 5.12), (-69.4, 5.05), (-68.0, 4.95),
    (-66.6, 4.95), (-65.2, 4.9), (-63.8, 4.84), (-62.4, 4.84), (-61.3, 4.9), (-60.3, 5.16), (-59.3, 5.69),
    (-58.2, 6.11), (-56.8, 6.22), (-55.4, 6.11), (-54.0, 6.01), (-52.9, 5.84), (-51.9, 5.8), (-50.9, 5.9),
    (-49.8, 5.8), (-48.7, 5.48), (-47.7, 5.16), (-46.7, 4.73), (-45.7, 4.95), (-44.6, 5.05), (-43.6, 5.27),
    (-42.6, 6.01), (-42.1, 5.16), (-41.5, 5.9), (-40.8, 6.01), (-40.1, 5.27), (-39.4, 6.01), (-38.7, 5.8),
    (-38.0, 5.05), (-37.3, 5.37), (-36.6, 5.69), (-35.9, 5.48), (-34.8, 6.11), (-34.1, 6.22), (-33.4, 5.37),
    (-32.7, 5.69), (-32.0, 5.16), (-31.3, 5.48), (-30.3, 5.05), (-29.6, 4.73), (-28.9, 5.16), (-28.2, 4.31),
    (-27.5, 4.63), (-26.8, 4.42), (-25.8, 4.63), (-25.0, 4.52), (-24.3, 4.1), (-23.6, 4.42), (-22.6, 4.31),
    (-21.7, 4.1), (-20.9, 4.2), (-20.1, 4.1), (-19.1, 4.2), (-18.0, 4.42), (-17.0, 4.73), (-16.0, 5.05),
    (-15.3, 5.27), (-14.9, 6.86), (-14.5, 7.71), (-14.1, 6.86), (-13.5, 6.01), (-13.1, 7.71), (-12.4, 7.71),
    (-11.7, 7.81), (-10.8, 7.5), (-9.7, 7.28), (-8.7, 6.86), (-7.6, 6.86), (-6.6, 6.96), (-5.4, 6.96),
    (-4.5, 7.39), (-3.5, 7.81),
]

sum_pts = [
    (-413.3, 28.26), (-412.2, 27.92), (-410.8, 28.41), (-409.4, 28.58), (-408.0, 28.55), (-407.1, 28.77), (-406.0, 28.3),
    (-404.6, 27.88), (-402.9, 27.81), (-401.1, 27.45), (-399.8, 27.24), (-398.4, 26.82), (-397.4, 26.6), (-396.3, 25.86),
    (-394.9, 25.22), (-393.6, 24.48), (-392.6, 23.95), (-391.5, 24.01), (-390.5, 24.8), (-389.4, 25.54), (-388.0, 25.86),
    (-386.7, 26.39), (-385.7, 26.5), (-384.6, 26.07), (-383.5, 25.54), (-382.2, 25.12), (-381.4, 24.48), (-380.9, 24.06),
    (-379.8, 24.48), (-378.7, 24.9), (-377.6, 24.59), (-376.3, 24.27), (-375.3, 23.84), (-374.2, 22.89), (-373.3, 22.68),
    (-371.9, 22.68), (-370.9, 23.95), (-370.1, 23.63), (-369.0, 23.21), (-368.0, 22.78), (-366.9, 22.46), (-365.7, 22.04),
    (-364.6, 21.61), (-363.6, 20.98), (-362.5, 21.08), (-361.1, 21.93), (-360.0, 21.3), (-359.1, 20.98), (-357.7, 20.76),
    (-356.6, 20.45), (-355.3, 20.13), (-354.0, 19.92), (-352.9, 19.81), (-351.8, 20.23), (-350.5, 20.76), (-349.4, 21.3),
    (-348.0, 21.34), (-346.7, 21.51), (-345.3, 21.83), (-344.3, 22.14), (-343.5, 21.93), (-342.5, 21.93), (-341.1, 21.83),
    (-340.2, 21.3), (-339.1, 20.87), (-338.1, 20.34), (-337.0, 20.76), (-336.0, 20.66), (-334.9, 20.76), (-334.2, 22.99),
    (-333.6, 24.16), (-332.6, 24.27), (-331.5, 23.95), (-330.4, 24.16), (-329.4, 24.8), (-328.4, 25.54), (-327.3, 26.5),
    (-326.4, 27.45), (-325.7, 28.09), (-324.9, 27.66), (-324.3, 29.79), (-323.5, 29.68), (-323.0, 28.62), (-322.2, 28.3),
    (-321.6, 27.24), (-320.7, 27.35), (-319.8, 27.13), (-319.1, 27.45), (-318.1, 27.24), (-317.0, 27.03), (-315.6, 26.92),
    (-314.5, 26.86), (-313.6, 26.5), (-312.4, 26.18), (-311.5, 25.65), (-310.5, 25.22), (-309.4, 24.95), (-308.4, 25.07),
    (-307.3, 24.8), (-306.7, 24.16), (-306.0, 23.95), (-305.3, 27.13), (-304.6, 25.54), (-303.9, 26.28), (-303.0, 26.18),
    (-302.2, 25.75), (-301.6, 24.8), (-300.9, 24.27), (-299.8, 23.63), (-298.8, 23.21), (-297.7, 22.89), (-296.7, 23.0),
    (-295.6, 23.42), (-294.7, 24.27), (-293.6, 24.59), (-292.9, 24.27), (-292.2, 23.74), (-291.2, 23.74), (-290.1, 23.74),
    (-289.1, 24.27), (-288.4, 24.69), (-287.3, 23.95), (-286.4, 23.42), (-285.3, 23.1), (-284.2, 22.78), (-283.2, 22.68),
    (-282.2, 22.46), (-281.4, 21.93), (-280.4, 21.72), (-279.5, 22.04), (-278.4, 22.36), (-277.4, 23.31), (-276.3, 23.63),
    (-274.9, 23.63), (-273.8, 22.99), (-272.9, 22.89), (-271.8, 23.21), (-270.8, 22.89), (-269.4, 22.36), (-268.1, 22.04),
    (-267.1, 21.72), (-266.0, 21.3), (-265.0, 20.98), (-263.9, 21.19), (-262.9, 20.87), (-261.8, 20.66), (-260.9, 20.34),
    (-260.0, 21.3), (-259.3, 20.66), (-258.4, 20.34), (-257.4, 21.08), (-256.3, 22.04), (-255.3, 22.57), (-254.0, 22.68),
    (-253.1, 21.61), (-251.8, 21.61), (-250.8, 21.83), (-249.7, 21.3), (-248.7, 20.98), (-247.3, 20.7), (-245.9, 20.7),
    (-245.0, 21.61), (-244.1, 22.04), (-243.4, 21.95), (-242.5, 23.1), (-241.6, 23.21), (-240.7, 24.27), (-239.8, 25.54),
    (-238.8, 28.3), (-238.0, 27.88), (-237.0, 27.24), (-236.1, 26.39), (-235.0, 25.75), (-233.6, 24.69), (-232.2, 24.27),
    (-230.9, 23.84), (-229.5, 23.52), (-228.1, 23.21), (-226.7, 22.99), (-225.8, 23.42), (-225.1, 22.78), (-224.0, 22.25),
    (-222.6, 21.72), (-221.1, 22.25), (-219.8, 23.21), (-218.8, 24.48), (-217.7, 25.86), (-216.3, 25.97), (-215.3, 25.65),
    (-214.6, 26.5), (-213.6, 26.71), (-213.0, 26.82), (-212.3, 25.75), (-211.2, 24.69), (-209.8, 24.27), (-208.4, 23.42),
    (-207.3, 22.78), (-206.0, 23.74), (-204.9, 24.48), (-203.8, 25.12), (-203.1, 25.97), (-202.1, 25.65), (-200.7, 25.33),
    (-199.7, 25.01), (-198.9, 24.27), (-197.9, 23.52), (-196.9, 22.89), (-195.5, 22.68), (-194.1, 22.68), (-193.0, 22.99),
    (-191.6, 23.21), (-190.2, 23.21), (-189.2, 22.68), (-188.1, 21.93), (-186.7, 21.93), (-185.6, 21.72), (-184.6, 21.19),
    (-183.7, 21.72), (-182.5, 22.46), (-181.6, 22.36), (-180.4, 22.04), (-179.5, 21.61), (-178.4, 21.3), (-177.2, 21.19),
    (-176.3, 21.08), (-175.3, 20.76), (-174.4, 21.51), (-173.5, 21.83), (-172.1, 22.04), (-170.7, 21.93), (-169.6, 21.51),
    (-168.6, 21.08), (-167.2, 20.55), (-166.1, 20.45), (-164.7, 20.45), (-163.4, 20.55), (-162.3, 20.76), (-160.9, 20.66),
    (-159.5, 20.45), (-158.5, 20.23), (-157.4, 20.13), (-156.3, 19.6), (-155.3, 19.92), (-154.3, 20.23), (-153.5, 20.66),
    (-152.5, 20.23), (-151.5, 20.02), (-150.7, 20.66), (-149.7, 20.55), (-148.3, 20.23), (-146.9, 20.23), (-145.5, 20.02),
    (-144.1, 19.92), (-142.7, 19.92), (-141.3, 19.92), (-140.4, 19.6), (-139.2, 19.49), (-138.3, 19.92), (-137.2, 20.23),
    (-136.2, 20.76), (-135.3, 21.51), (-134.4, 22.57), (-133.4, 23.63), (-132.3, 24.48), (-131.6, 25.75), (-130.9, 27.24),
    (-130.2, 27.98), (-129.5, 28.73), (-128.8, 27.45), (-127.8, 27.66), (-127.1, 28.51), (-126.4, 27.88), (-125.6, 28.3),
    (-124.6, 27.98), (-123.6, 28.09), (-122.5, 27.98), (-121.5, 27.24), (-120.7, 27.56), (-119.7, 27.24), (-118.7, 26.82),
    (-117.9, 26.28), (-116.9, 26.07), (-115.8, 25.86), (-114.9, 25.86), (-114.1, 24.69), (-113.1, 24.37), (-112.0, 24.06),
    (-110.6, 23.63), (-109.2, 23.21), (-108.2, 22.78), (-107.4, 22.68), (-106.7, 24.27), (-106.0, 24.9), (-105.0, 24.59),
    (-103.9, 24.37), (-102.9, 24.16), (-101.8, 24.06), (-100.8, 23.74), (-99.7, 23.31), (-98.5, 22.99), (-97.1, 22.89),
    (-96.0, 22.89), (-94.6, 22.99), (-93.4, 22.78), (-92.5, 22.46), (-91.3, 21.93), (-90.2, 21.4), (-89.2, 21.72),
    (-88.2, 22.36), (-87.4, 23.63), (-86.7, 24.9), (-86.3, 25.33), (-85.6, 24.8), (-84.6, 24.27), (-83.5, 23.84),
    (-82.6, 23.42), (-81.6, 22.89), (-80.5, 22.57), (-79.5, 22.57), (-78.5, 22.68), (-77.8, 23.1), (-76.8, 23.42),
    (-75.9, 23.1), (-75.0, 22.78), (-73.6, 22.57), (-72.2, 22.25), (-71.1, 21.51), (-70.1, 20.98), (-68.7, 20.55),
    (-67.3, 20.34), (-65.9, 20.34), (-64.5, 20.45), (-63.1, 20.66), (-62.0, 20.87), (-61.0, 21.3), (-59.9, 21.83),
    (-58.9, 22.57), (-58.2, 23.21), (-57.3, 23.31), (-56.4, 22.99), (-55.5, 22.57), (-54.5, 22.25), (-53.4, 21.72),
    (-52.4, 21.4), (-51.7, 22.14), (-50.9, 22.57), (-50.2, 22.99), (-49.6, 22.14), (-48.8, 21.51), (-47.8, 20.87),
    (-46.8, 20.45), (-45.7, 20.66), (-44.6, 20.98), (-43.6, 21.51), (-42.6, 22.14), (-41.9, 22.57), (-41.2, 22.25),
    (-40.4, 21.93), (-39.7, 22.57), (-39.0, 22.78), (-38.3, 22.25), (-37.3, 21.93), (-36.7, 22.04), (-35.7, 22.36),
    (-34.9, 22.78), (-33.9, 22.25), (-33.2, 21.72), (-32.1, 21.83), (-31.1, 21.19), (-30.4, 21.51), (-29.4, 20.76),
    (-28.6, 20.87), (-27.5, 19.81), (-26.5, 20.13), (-25.4, 20.23), (-24.5, 20.02), (-23.3, 19.6), (-22.2, 19.6),
    (-21.2, 19.49), (-20.1, 19.17), (-19.1, 19.17), (-18.0, 20.13), (-17.0, 21.3), (-16.0, 22.14), (-15.2, 22.78),
    (-14.6, 24.27), (-14.2, 25.75), (-13.8, 24.27), (-13.3, 25.75), (-12.9, 26.92), (-11.9, 27.45), (-10.8, 27.35),
    (-9.8, 26.92), (-8.7, 26.39), (-8.0, 26.82), (-7.0, 27.03), (-6.2, 27.13), (-5.2, 27.35), (-4.5, 28.2), (-3.8, 28.94),
]

kyr_ticks = list(range(-425, 1, 25))
top_yticks = list(range(-9, 4))
bottom_yticks = list(range(0, 31, 5))

W, H = 1138, 1226


def px_box(left, top, right, bottom):
    # pixel box -> figure fraction [l, b, w, h]
    return [left / W, 1 - bottom / H, (right - left) / W, (bottom - top) / H]


def split(pts):
    return [p[0] for p in pts], [p[1] for p in pts]


fig = plt.figure(figsize=(W / 100, H / 100), dpi=100)

# chart-area frames
for (l, t, r, b) in [(6, 8, 1136, 605), (6, 612, 1136, 1224)]:
    fig.add_artist(Rectangle((l / W, 1 - b / H), (r - l) / W, (b - t) / H,
                             transform=fig.transFigure, fill=False, edgecolor='black', lw=1))

# ---------------- top chart ----------------
ax1 = fig.add_axes(px_box(81, 42, 1115, 535))
ax1.set_facecolor('#C0C0C0')
x, y = split(antarctica_pts)
ax1.plot(x, y, color='#FF0000', lw=1, marker='o', ms=3.4, mew=0,
         label='Antarctica Temperature Relative to 1990')
x, y = split(fitted_pts)
ax1.plot(x, y, color='#0000FF', lw=1, marker='^', ms=4.8, mew=0,
         label='Fitted Temperature Offset')

ax1.set_xlim(-425, 0)
ax1.set_ylim(-9, 3)
ax1.set_xticks(kyr_ticks)
ax1.set_xticklabels([str(t) for t in kyr_ticks])
ax1.set_yticks(top_yticks)
ax1.grid(True, color='black', lw=1)
ax1.set_axisbelow(True)
ax1.spines['bottom'].set_position(('data', 0))
ax1.spines['bottom'].set_color('black')
ax1.spines['left'].set_color('black')
for s in ['top', 'right']:
    ax1.spines[s].set_color('#808080')
ax1.add_line(Line2D([0, 1], [0, 0], transform=ax1.transAxes, color='#808080', lw=1.5, clip_on=False))
ax1.tick_params(axis='x', direction='inout', length=6, pad=11, labelsize=11.5)
ax1.tick_params(axis='y', direction='out', length=5, labelsize=11.5)

fig.text(575 / W, 1 - 21 / H, 'Antarctica Temperature Calculated with Concentration & Insolation Offsets',
         ha='center', va='center', fontsize=14.5, fontweight='bold')
fig.text(32 / W, 1 - 288 / H, 'Celsius Degrees Relative to 1990', rotation=90,
         ha='center', va='center', fontsize=11.7, fontweight='bold')
fig.text(597 / W, 1 - 552 / H, 'Kiloyears Before 1990', ha='center', va='center',
         fontsize=11.8, fontweight='bold')

leg1 = fig.legend(*ax1.get_legend_handles_labels(), loc='center', bbox_to_anchor=(595 / W, 1 - 585 / H),
                  ncol=2, fontsize=11.3, frameon=True, fancybox=False, edgecolor='black',
                  handlelength=2.5, columnspacing=0.8, handletextpad=0.4, borderpad=0.3)
leg1.get_frame().set_linewidth(1)

# ---------------- bottom chart ----------------
ax2 = fig.add_axes(px_box(68, 655, 1130, 1126))
ax2.set_facecolor('#C0C0C0')
for pts, col, name in [(insolation_pts, '#FF0000', 'Insolation'), (co2_pts, '#0000FF', 'CO2'),
                       (ch4_pts, '#800000', 'CH4'), (sum_pts, '#000000', 'Sum')]:
    x, y = split(pts)
    ax2.plot(x, y, color=col, lw=1.8, label=name)

ax2.set_xlim(-425, 0)
ax2.set_ylim(0, 30)
ax2.set_xticks(kyr_ticks)
ax2.set_xticklabels([str(t) for t in kyr_ticks])
ax2.set_yticks(bottom_yticks)
ax2.grid(True, color='black', lw=1)
ax2.set_axisbelow(True)
for s in ['top', 'right']:
    ax2.spines[s].set_color('#808080')
ax2.tick_params(axis='both', direction='out', length=5, labelsize=11.5)
ax2.tick_params(axis='x', pad=7)

fig.text(575 / W, 1 - 633 / H, 'Antarctica Temperature Contributions', ha='center', va='center',
         fontsize=14.5, fontweight='bold')
fig.text(18 / W, 1 - 885 / H, 'Temperature Relative to 1', rotation=90, ha='center', va='center',
         fontsize=12.2, fontweight='bold')
fig.text(598 / W, 1 - 1180 / H, 'Year', ha='center', va='center', fontsize=12, fontweight='bold')

leg2 = fig.legend(*ax2.get_legend_handles_labels(), loc='center', bbox_to_anchor=(600 / W, 1 - 1207 / H),
                  ncol=4, fontsize=11, frameon=True, fancybox=False, edgecolor='black',
                  handlelength=2.4, columnspacing=0.5, handletextpad=0.3, borderpad=0.3)
leg2.get_frame().set_linewidth(1)

fig.savefig('out.png', dpi=100)
